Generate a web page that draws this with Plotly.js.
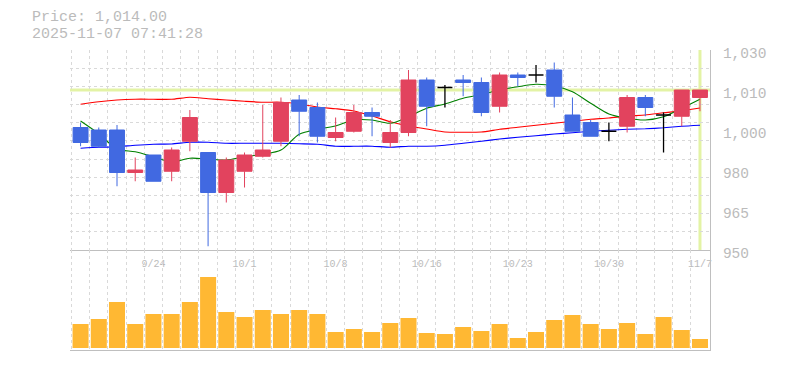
<!DOCTYPE html>
<html>
<head>
<meta charset="utf-8">
<script src="https://cdn.plot.ly/plotly-3.0.1.min.js"></script>
<style>html,body{margin:0;padding:0;background:#fff;}#chart{width:785px;height:370px;}</style>
</head>
<body>
<div id="chart"></div>
<script>
// ---- data ----
const dates = ['9/17','9/18','9/19','9/22','9/24','9/25','9/26','9/29','9/30','10/1',
  '10/2','10/3','10/6','10/7','10/8','10/9','10/10','10/14','10/15','10/16',
  '10/17','10/20','10/21','10/22','10/23','10/24','10/27','10/28','10/29','10/30',
  '10/31','11/4','11/5','11/6','11/7'];
const opens  = [999,998,998,981,988,981.5,993.5,989,973,981.5,
  987.5,993.5,1010,1007,995,997.5,1005,993,997,1018,
  1015,1018,1017,1007.5,1020,1020,1022,1004,1001,997.5,
  999.5,1011,1004,1003.5,1011];
const highs  = [1001,999,1000,987,988,991,1006,989,987,989,
  1008,1011,1012,1009,1003,1008,1007,1002,1022,1019,
  1016,1020,1019,1021,1021,1024,1025,1011,1002,1001,
  1012,1012,1005,1014,1014];
const lows   = [991.5,991,975.5,977.5,977.5,977.5,989.5,951.5,969,975,
  987,991.5,995.5,993,993.5,997,995.5,991,995.5,999.5,
  1007,1011.5,1003.5,1005,1015.5,1017,1007,997.5,995.5,993.5,
  997,1003.5,989,999.5,1005.5];
const closes = [993,991.5,981,982,977.5,990,1003,973,986,988,
  990,1009,1005.5,995.5,997,1005,1003.5,997,1018,1007.5,
  1015,1017,1005,1020,1019,1020,1011.5,997.5,995.5,997.5,
  1011,1007,1004,1014,1014];
const ma5  = [1001.6,996.5,990.4,989.3,987.3,985.2,986.7,986.4,986,987.3,
  988.3,990,996.3,998.3,999.6,1002,1002,1000.7,1003.3,1006.7,
  1008.4,1010.7,1012.2,1014,1015.3,1016.3,1015.6,1013.3,1008.7,1004.4,
  1002.7,1002,1003.3,1006.7,1010.3];
const ma25 = [1008.3,1009.3,1010,1010.3,1010.3,1010.3,1011.1,1010.5,1010,1009.5,
  1009.1,1009.1,1008.4,1007.2,1006.5,1005.6,1003.6,1001.3,999.6,998.4,
  997.2,997.1,997.2,998.3,999.1,999.9,1000.7,1001.5,1002.3,1002.8,
  1003.6,1004,1004.9,1005.7,1006.8];
const ma75 = [990.7,991.1,991.3,991.9,992.3,992.4,993.1,993.1,992.7,992.7,
  992.7,992.7,992.5,992.3,991.5,991.5,991.5,991.1,991.5,991.5,
  991.9,992.7,993.5,994.4,995.1,995.7,996.4,996.9,997.5,997.9,
  998.3,998.5,998.9,999.5,999.9];
const volumes = [240000,290000,460000,240000,340000,340000,460000,710000,360000,310000,
  380000,340000,380000,340000,160000,190000,160000,250000,300000,150000,
  140000,210000,170000,240000,100000,160000,280000,330000,240000,190000,
  250000,140000,310000,180000,90000];
const tickDates = ['9/24','10/1','10/8','10/16','10/23','10/30','11/7'];
const priceTickVals = [950,966,982,998,1014,1030];
const priceTickText = ['950','965','980','1,000','1,010','1,030'];
const priceLabel = 'Price: 1,014.00';
const timeLabel = '2025-11-07 07:41:28';

// ---- styling ----
const RED = '#e2435e', BLUE = '#4169e1', VOL = '#ffb833';
const GRID = '#d9d9d9', AXIS = '#bfbfbf', TXT = '#bbbbbb', HL = '#e3f3a5';
const MONO = 'Liberation Mono, DejaVu Sans Mono, monospace';

const idx = dates.map((d, i) => i);
const doji = opens.map((o, i) => o === closes[i]);
const pick = (arr, want) => arr.map((v, i) => doji[i] === want ? v : null);

const xRange = [-0.58, dates.length - 1 + 0.55];
const yRange = [950, 1030];
const vRange = [-20000, 980000];
const xGrid = idx.concat([dates.length]).map(i => i - 0.5);
const yGrid = Array.from({length: 12}, (_, i) => yRange[0] + i * (yRange[1] - yRange[0]) / 11);
const last = dates.length - 1;

const traces = [
  {type: 'scatter', mode: 'lines', x: idx, y: ma75, xaxis: 'x', yaxis: 'y',
   line: {color: '#0000ff', width: 1.2, shape: 'spline', smoothing: 0.6}, hoverinfo: 'skip'},
  {type: 'scatter', mode: 'lines', x: idx, y: ma25, xaxis: 'x', yaxis: 'y',
   line: {color: '#ff0000', width: 1.2, shape: 'spline', smoothing: 0.6}, hoverinfo: 'skip'},
  {type: 'scatter', mode: 'lines', x: idx, y: ma5, xaxis: 'x', yaxis: 'y',
   line: {color: '#008000', width: 1.1, shape: 'spline', smoothing: 0.8}, hoverinfo: 'skip'},
  {type: 'candlestick', x: idx, open: pick(opens, false), high: pick(highs, false),
   low: pick(lows, false), close: pick(closes, false), xaxis: 'x3', yaxis: 'y3',
   whiskerwidth: 0,
   increasing: {line: {color: RED, width: 1}, fillcolor: RED},
   decreasing: {line: {color: BLUE, width: 1}, fillcolor: BLUE}},
  {type: 'candlestick', x: idx, open: pick(opens, true), high: pick(highs, true),
   low: pick(lows, true), close: pick(closes, true), xaxis: 'x3', yaxis: 'y3',
   whiskerwidth: 0,
   increasing: {line: {color: '#000000', width: 1.3}, fillcolor: '#000000'},
   decreasing: {line: {color: '#000000', width: 1.3}, fillcolor: '#000000'}},
  {type: 'bar', x: idx, y: volumes, xaxis: 'x2', yaxis: 'y2', width: 0.88,
   marker: {color: VOL, line: {width: 0}}, hoverinfo: 'skip'}
];

const minorX = {tickvals: xGrid, showgrid: true, gridcolor: GRID, griddash: '3px,3px', gridwidth: 1, ticks: ''};

const layout = {
  width: 785, height: 370,
  margin: {l: 70, r: 75, t: 50, b: 20},
  paper_bgcolor: '#ffffff', plot_bgcolor: 'rgba(0,0,0,0)',
  showlegend: false, hovermode: false,
  boxgap: 0.18, boxgroupgap: 0,
  font: {family: MONO, color: TXT},
  xaxis: {domain: [0, 1], anchor: 'y', type: 'linear', range: xRange,
    tickmode: 'array', tickvals: tickDates.map(d => dates.indexOf(d)), ticktext: tickDates,
    tickfont: {family: MONO, size: 10, color: TXT}, ticks: '', showgrid: false, zeroline: false,
    showline: true, linecolor: AXIS, linewidth: 1, minor: minorX, ticklabelstandoff: 4,
    rangeslider: {visible: false}, fixedrange: true},
  yaxis: {domain: [1/3, 1], anchor: 'x', side: 'right', range: yRange,
    tickmode: 'array', tickvals: priceTickVals, ticktext: priceTickText,
    tickfont: {family: MONO, size: 14.5, color: TXT}, ticks: '', showgrid: false, zeroline: false,
    showline: true, linecolor: AXIS, linewidth: 1, ticklabelstandoff: 9, ticklabelshift: 3,
    minor: {tickvals: yGrid, showgrid: true, gridcolor: GRID, griddash: '3px,3px', gridwidth: 1, ticks: ''},
    fixedrange: true},
  xaxis2: {domain: [0, 1], anchor: 'y2', type: 'linear', range: xRange, showticklabels: false,
    ticks: '', showgrid: false, zeroline: false, showline: true, linecolor: AXIS, linewidth: 1,
    minor: minorX, fixedrange: true},
  yaxis2: {domain: [0, 1/3], anchor: 'x2', side: 'right', range: vRange, showticklabels: false,
    ticks: '', showgrid: false, zeroline: false, showline: true, linecolor: AXIS, linewidth: 1,
    fixedrange: true},
  xaxis3: {overlaying: 'x', anchor: 'y3', type: 'linear', range: xRange, visible: false,
    rangeslider: {visible: false}, fixedrange: true},
  yaxis3: {overlaying: 'y', anchor: 'x3', range: yRange, visible: false, fixedrange: true},
  shapes: [
    {type: 'line', layer: 'below', xref: 'x domain', yref: 'y', x0: 0, x1: 1,
     y0: closes[last], y1: closes[last], line: {color: HL, width: 3}},
    {type: 'line', layer: 'below', xref: 'x', yref: 'y domain', x0: last, x1: last,
     y0: 0, y1: 1, line: {color: HL, width: 3}}
  ],
  annotations: [
    {text: priceLabel, xref: 'paper', yref: 'paper', x: -40/640, y: 1 + 32/300,
     xanchor: 'left', yanchor: 'middle', showarrow: false,
     font: {family: MONO, size: 15, color: TXT}},
    {text: timeLabel, xref: 'paper', yref: 'paper', x: -40/640, y: 1 + 16/300,
     xanchor: 'left', yanchor: 'middle', showarrow: false,
     font: {family: MONO, size: 15, color: TXT}}
  ]
};

Plotly.newPlot('chart', traces, layout, {staticPlot: true, displayModeBar: false});
</script>
</body>
</html>
